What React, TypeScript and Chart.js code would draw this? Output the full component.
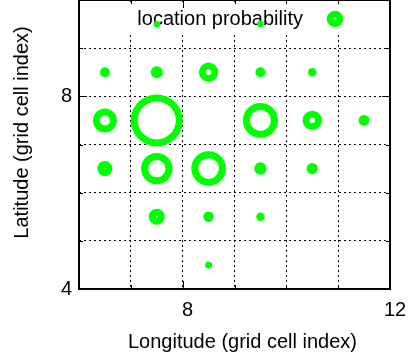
import React, { useEffect, useRef } from 'react';
import { Chart, registerables } from 'chart.js';

Chart.register(...registerables);

// Grid-cell centres (longitude, latitude) and the probability attached to each cell
const lon = [7.5, 9.5, 6.5, 7.5, 8.5, 9.5, 10.5, 6.5, 7.5, 9.5, 10.5, 11.5, 6.5, 7.5, 8.5, 9.5, 10.5, 7.5, 8.5, 9.5, 8.5];
const lat = [9.5, 9.5, 8.5, 8.5, 8.5, 8.5, 8.5, 7.5, 7.5, 7.5, 7.5, 7.5, 6.5, 6.5, 6.5, 6.5, 6.5, 5.5, 5.5, 5.5, 4.5];
// circle radius in grid-cell units
const prob = [0.064, 0.064, 0.097, 0.116, 0.187, 0.097, 0.083, 0.232, 0.502, 0.338, 0.187, 0.106, 0.145, 0.303, 0.334, 0.12, 0.11, 0.154, 0.102, 0.081, 0.068];
const legendProb = 0.16;

const xRange = [6, 12];
const yRange = [4, 10];
const tickStep = 1;
const labelStep = 4;

const seriesLabel = 'location probability';
const xTitle = 'Longitude (grid cell index)';
const yTitle = 'Latitude (grid cell index)';

const FONT = "'Liberation Sans', Arial, Helvetica, sans-serif";
const GREEN = '#00ff00';
const STROKE = 7;

function outerPx(chart: any, p: number) {
  const s = chart.scales.x;
  return Math.abs(s.getPixelForValue(p) - s.getPixelForValue(0));
}

const gnuPlugin = {
  id: 'gnuframe',
  beforeDatasetsDraw(chart: any) {
    const { ctx, chartArea: a } = chart;
    ctx.save();
    // opaque key box
    ctx.fillStyle = '#ffffff';
    ctx.fillRect(a.left + 46, a.top + 4, 226, 29);
    ctx.font = `20px ${FONT}`;
    ctx.fillStyle = '#000';
    ctx.textAlign = 'right';
    ctx.textBaseline = 'middle';
    ctx.fillText(chart.data.datasets[0].label, a.right - 87, a.top + 19);
    const o = outerPx(chart, legendProb);
    const bw = Math.min(STROKE, o);
    ctx.strokeStyle = GREEN;
    ctx.lineWidth = bw;
    ctx.beginPath();
    ctx.arc(a.right - 55, a.top + 19, o - bw / 2, 0, Math.PI * 2);
    ctx.stroke();
    ctx.restore();
  },
  afterDraw(chart: any) {
    const { ctx, chartArea: a } = chart;
    const xs = chart.scales.x;
    const ys = chart.scales.y;
    ctx.save();
    ctx.strokeStyle = '#000';
    ctx.lineWidth = 1;
    ctx.beginPath();
    for (let v = Math.ceil(xs.min); v <= Math.floor(xs.max); v += tickStep) {
      const px = Math.round(xs.getPixelForValue(v)) + 0.5;
      const len = v % labelStep === 0 ? 8 : 4;
      ctx.moveTo(px, a.bottom);
      ctx.lineTo(px, a.bottom - len);
      ctx.moveTo(px, a.top);
      ctx.lineTo(px, a.top + len);
    }
    for (let v = Math.ceil(ys.min); v <= Math.floor(ys.max); v += tickStep) {
      const py = Math.round(ys.getPixelForValue(v)) + 0.5;
      const len = v % labelStep === 0 ? 8 : 4;
      ctx.moveTo(a.left, py);
      ctx.lineTo(a.left + len, py);
      ctx.moveTo(a.right, py);
      ctx.lineTo(a.right - len, py);
    }
    ctx.stroke();
    ctx.lineWidth = 2;
    ctx.strokeRect(a.left, a.top, a.right - a.left, a.bottom - a.top);

    // axis titles
    ctx.fillStyle = '#000';
    ctx.font = `20px ${FONT}`;
    ctx.textAlign = 'center';
    ctx.textBaseline = 'middle';
    const midX = (a.left + a.right) / 2;
    ctx.fillText(chart.options.scales.x.title.text, midX + 8, a.bottom + 53);
    ctx.save();
    ctx.translate(a.left - 57, (a.top + a.bottom) / 2 - 12);
    ctx.rotate(-Math.PI / 2);
    ctx.fillText(chart.options.scales.y.title.text, 0, 0);
    ctx.restore();
    ctx.restore();
  },
};

export default function App() {
  const ref = useRef<HTMLCanvasElement | null>(null);

  useEffect(() => {
    document.body.style.margin = '0';
    const canvas = ref.current;
    if (!canvas) return;
    const points = lon.map((x, i) => ({ x, y: lat[i] }));
    const tickFont = { family: FONT, size: 20, lineHeight: 1.2 };
    const radiusFor = (c: any) => {
      const o = outerPx(c.chart, prob[c.dataIndex] ?? 0);
      const bw = Math.min(STROKE, o);
      return Math.max(0.1, o - bw / 2);
    };
    const chart = new Chart(canvas, {
      type: 'scatter',
      data: {
        datasets: [
          {
            label: seriesLabel,
            data: points,
            backgroundColor: 'rgba(0,0,0,0)',
            borderColor: GREEN,
            pointStyle: 'circle',
            pointRadius: radiusFor,
            pointHoverRadius: radiusFor,
            pointBorderWidth: (c: any) => Math.min(STROKE, outerPx(c.chart, prob[c.dataIndex] ?? 0)),
            clip: false as any,
          } as any,
        ],
      },
      options: {
        animation: false,
        responsive: false,
        events: [],
        layout: { padding: { left: 0, right: 19, top: 0, bottom: 0 } },
        plugins: { legend: { display: false }, tooltip: { enabled: false } },
        scales: {
          x: {
            type: 'linear',
            min: xRange[0],
            max: xRange[1],
            ticks: {
              stepSize: tickStep,
              autoSkip: false,
              maxRotation: 0,
              padding: 9,
              labelOffset: 5,
              color: '#000',
              font: tickFont,
              callback: (v: any) => (Number(v) % labelStep === 0 ? String(v) : ''),
            },
            grid: { color: '#000', lineWidth: 1, drawTicks: false },
            border: { display: false, dash: [2, 3] },
            title: { display: false, text: xTitle },
            afterFit: (s: any) => {
              s.height = 71;
              s.paddingLeft = 0;
              s.paddingRight = 0;
            },
          },
          y: {
            type: 'linear',
            min: yRange[0],
            max: yRange[1],
            ticks: {
              stepSize: tickStep,
              autoSkip: false,
              padding: 7,
              color: '#000',
              font: tickFont,
              callback: (v: any) => (Number(v) % labelStep === 0 ? String(v) : ''),
            },
            grid: { color: '#000', lineWidth: 1, drawTicks: false },
            border: { display: false, dash: [2, 3] },
            title: { display: false, text: yTitle },
            afterFit: (s: any) => {
              s.width = 79;
              s.paddingTop = 0;
              s.paddingBottom = 0;
            },
          },
        },
      } as any,
      plugins: [gnuPlugin],
    });
    return () => chart.destroy();
  }, []);

  return <canvas ref={ref} width={409} height={360} style={{ display: 'block', width: 409, height: 360 }} />;
}
